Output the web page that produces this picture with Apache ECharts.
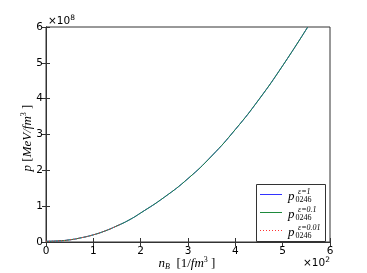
<!DOCTYPE html>
<html><head><meta charset="utf-8">
<script src="https://cdn.jsdelivr.net/npm/echarts@6/dist/echarts.min.js"></script>
<style>html,body{margin:0;padding:0;background:#fff}#c{width:367px;height:273px}</style>
</head><body><div id="c"></div>
<script>
// n_B values [1/fm^3]
const nB = [0, 25, 50, 75, 100, 125, 150, 175, 200, 250, 300, 350, 400, 450, 500, 553];
// p values [MeV/fm^3]
const pEps1 = [0.02e8, 0.03e8, 0.06e8, 0.12e8, 0.2e8, 0.31e8, 0.45e8, 0.61e8, 0.81e8, 1.25e8, 1.77e8, 2.4e8, 3.14e8, 3.98e8, 4.92e8, 6.0e8];
const pEps01 = [0.02e8, 0.03e8, 0.06e8, 0.12e8, 0.2e8, 0.31e8, 0.45e8, 0.61e8, 0.81e8, 1.25e8, 1.77e8, 2.4e8, 3.14e8, 3.98e8, 4.92e8, 6.0e8];
const nB001 = [0, 25, 50, 75, 100, 125, 150, 160];
const pEps001 = [0.02e8, 0.03e8, 0.06e8, 0.12e8, 0.2e8, 0.31e8, 0.45e8, 0.51e8];
const xTicks = [0, 1, 2, 3, 4, 5, 6];
const yTicks = [0, 1, 2, 3, 4, 5, 6];
const epsNames = ['1', '0.1', '0.01'];
const colors = ['#3333ff', '#1e8a3c', '#ff3333'];

const zip = (a, b) => a.map((v, i) => [v, b[i]]);
const chart = echarts.init(document.getElementById('c'), null, {renderer: 'canvas'});
const serif = 'Liberation Serif';
const sans = 'DejaVu Sans';

const legendGraphics = [
  {type: 'rect', shape: {x: 256.5, y: 184.5, width: 69, height: 57}, style: {fill: '#fff', stroke: '#333', lineWidth: 1}, z: 100}
];
epsNames.forEach((e, i) => {
  const y = 194 + i * 18;
  legendGraphics.push(
    {type: 'line', shape: {x1: 260, y1: y + 0.5, x2: 282, y2: y + 0.5}, style: {stroke: colors[i], lineWidth: 1, lineDash: i === 2 ? [1, 2] : null}, z: 101},
    {type: 'text', x: 288, y: y + 2.5, style: {text: 'p', font: 'italic 13px "Liberation Serif"', fill: '#000', verticalAlign: 'middle'}, z: 101},
    {type: 'text', x: 295.5, y: y + 6, style: {text: '0246', font: '8px "Liberation Serif"', fill: '#000', verticalAlign: 'middle'}, z: 101},
    {type: 'text', x: 298, y: y - 2.5, style: {text: 'ε=' + e, font: 'italic 8px "Liberation Serif"', fill: '#000', verticalAlign: 'middle'}, z: 101}
  );
});

chart.setOption({
  animation: false,
  backgroundColor: '#fff',
  grid: {left: 46, right: 37, top: 27, bottom: 31, outerBoundsMode: 'none', containLabel: false, show: true, borderColor: '#333', borderWidth: 1, backgroundColor: 'transparent'},
  xAxis: [{
    type: 'value', min: 0, max: 600, interval: 100, position: 'bottom',
    axisLine: {show: true, lineStyle: {color: '#333'}},
    axisTick: {show: true, inside: true, length: 4, lineStyle: {color: '#333'}},
    splitLine: {show: false},
    axisLabel: {color: '#000', fontFamily: sans, fontSize: 10.5, margin: 4, formatter: v => String(xTicks[Math.round(v / 100)])}
  }, {
    type: 'value', min: 0, max: 600, interval: 100, position: 'top',
    axisLine: {show: true, lineStyle: {color: '#333'}},
    axisTick: {show: true, inside: true, length: 4, lineStyle: {color: '#333'}},
    axisLabel: {show: false}, splitLine: {show: false}
  }],
  yAxis: [{
    type: 'value', min: 0, max: 6e8, interval: 1e8, position: 'left',
    axisLine: {show: true, lineStyle: {color: '#333'}},
    axisTick: {show: true, inside: true, length: 4, lineStyle: {color: '#333'}},
    splitLine: {show: false},
    axisLabel: {color: '#000', fontFamily: sans, fontSize: 10.5, margin: 3, formatter: v => String(yTicks[Math.round(v / 1e8)])}
  }, {
    type: 'value', min: 0, max: 6e8, interval: 1e8, position: 'right',
    axisLine: {show: true, lineStyle: {color: '#333'}},
    axisTick: {show: true, inside: true, length: 4, lineStyle: {color: '#333'}},
    axisLabel: {show: false}, splitLine: {show: false}
  }],
  graphic: [
    {type: 'text', left: 48, top: 14, style: {rich: {a: {fontFamily: sans, fontSize: 10.5, fill: '#000'}, b: {fontFamily: sans, fontSize: 7.5, fill: '#000', padding: [0, 0, 7, 0]}}, text: '{a|×10}{b|8}'}},
    {type: 'text', right: 37, top: 256, style: {rich: {a: {fontFamily: sans, fontSize: 10.5, fill: '#000'}, b: {fontFamily: sans, fontSize: 7.5, fill: '#000', padding: [0, 0, 7, 0]}}, text: '{a|×10}{b|2}'}},
    {type: 'text', x: 187, y: 264, style: {
      text: '{n|n}{s|B}{t|  [1/}{n|fm}{u|3}{t| ]}', align: 'center', verticalAlign: 'middle',
      rich: {
        n: {fontFamily: serif, fontStyle: 'italic', fontSize: 13, fill: '#000'},
        s: {fontFamily: serif, fontStyle: 'italic', fontSize: 8, fill: '#000', padding: [6, 0, 0, 0]},
        t: {fontFamily: serif, fontSize: 13, fill: '#000'},
        u: {fontFamily: serif, fontSize: 8, fill: '#000', padding: [0, 0, 8, 0]}
      }}},
    {type: 'text', x: 28, y: 138, rotation: Math.PI / 2, style: {
      text: '{n|p}{t| [}{n|MeV/fm}{u|3}{t| ]}', align: 'center', verticalAlign: 'middle',
      rich: {
        n: {fontFamily: serif, fontStyle: 'italic', fontSize: 13, fill: '#000'},
        t: {fontFamily: serif, fontSize: 13, fill: '#000'},
        u: {fontFamily: serif, fontSize: 8, fill: '#000', padding: [0, 0, 8, 0]}
      }}}
  ].concat(legendGraphics),
  series: [
    {name: 'eps1', type: 'line', data: zip(nB, pEps1), smooth: true, showSymbol: false, symbol: 'none', lineStyle: {color: colors[0], width: 1}},
    {name: 'eps01', type: 'line', data: zip(nB, pEps01), smooth: true, showSymbol: false, symbol: 'none', lineStyle: {color: colors[1], width: 1}},
    {name: 'eps001', type: 'line', data: zip(nB001, pEps001), smooth: true, showSymbol: false, symbol: 'none', lineStyle: {color: colors[2], width: 1, type: [1, 2]}}
  ]
});
</script></body></html>
